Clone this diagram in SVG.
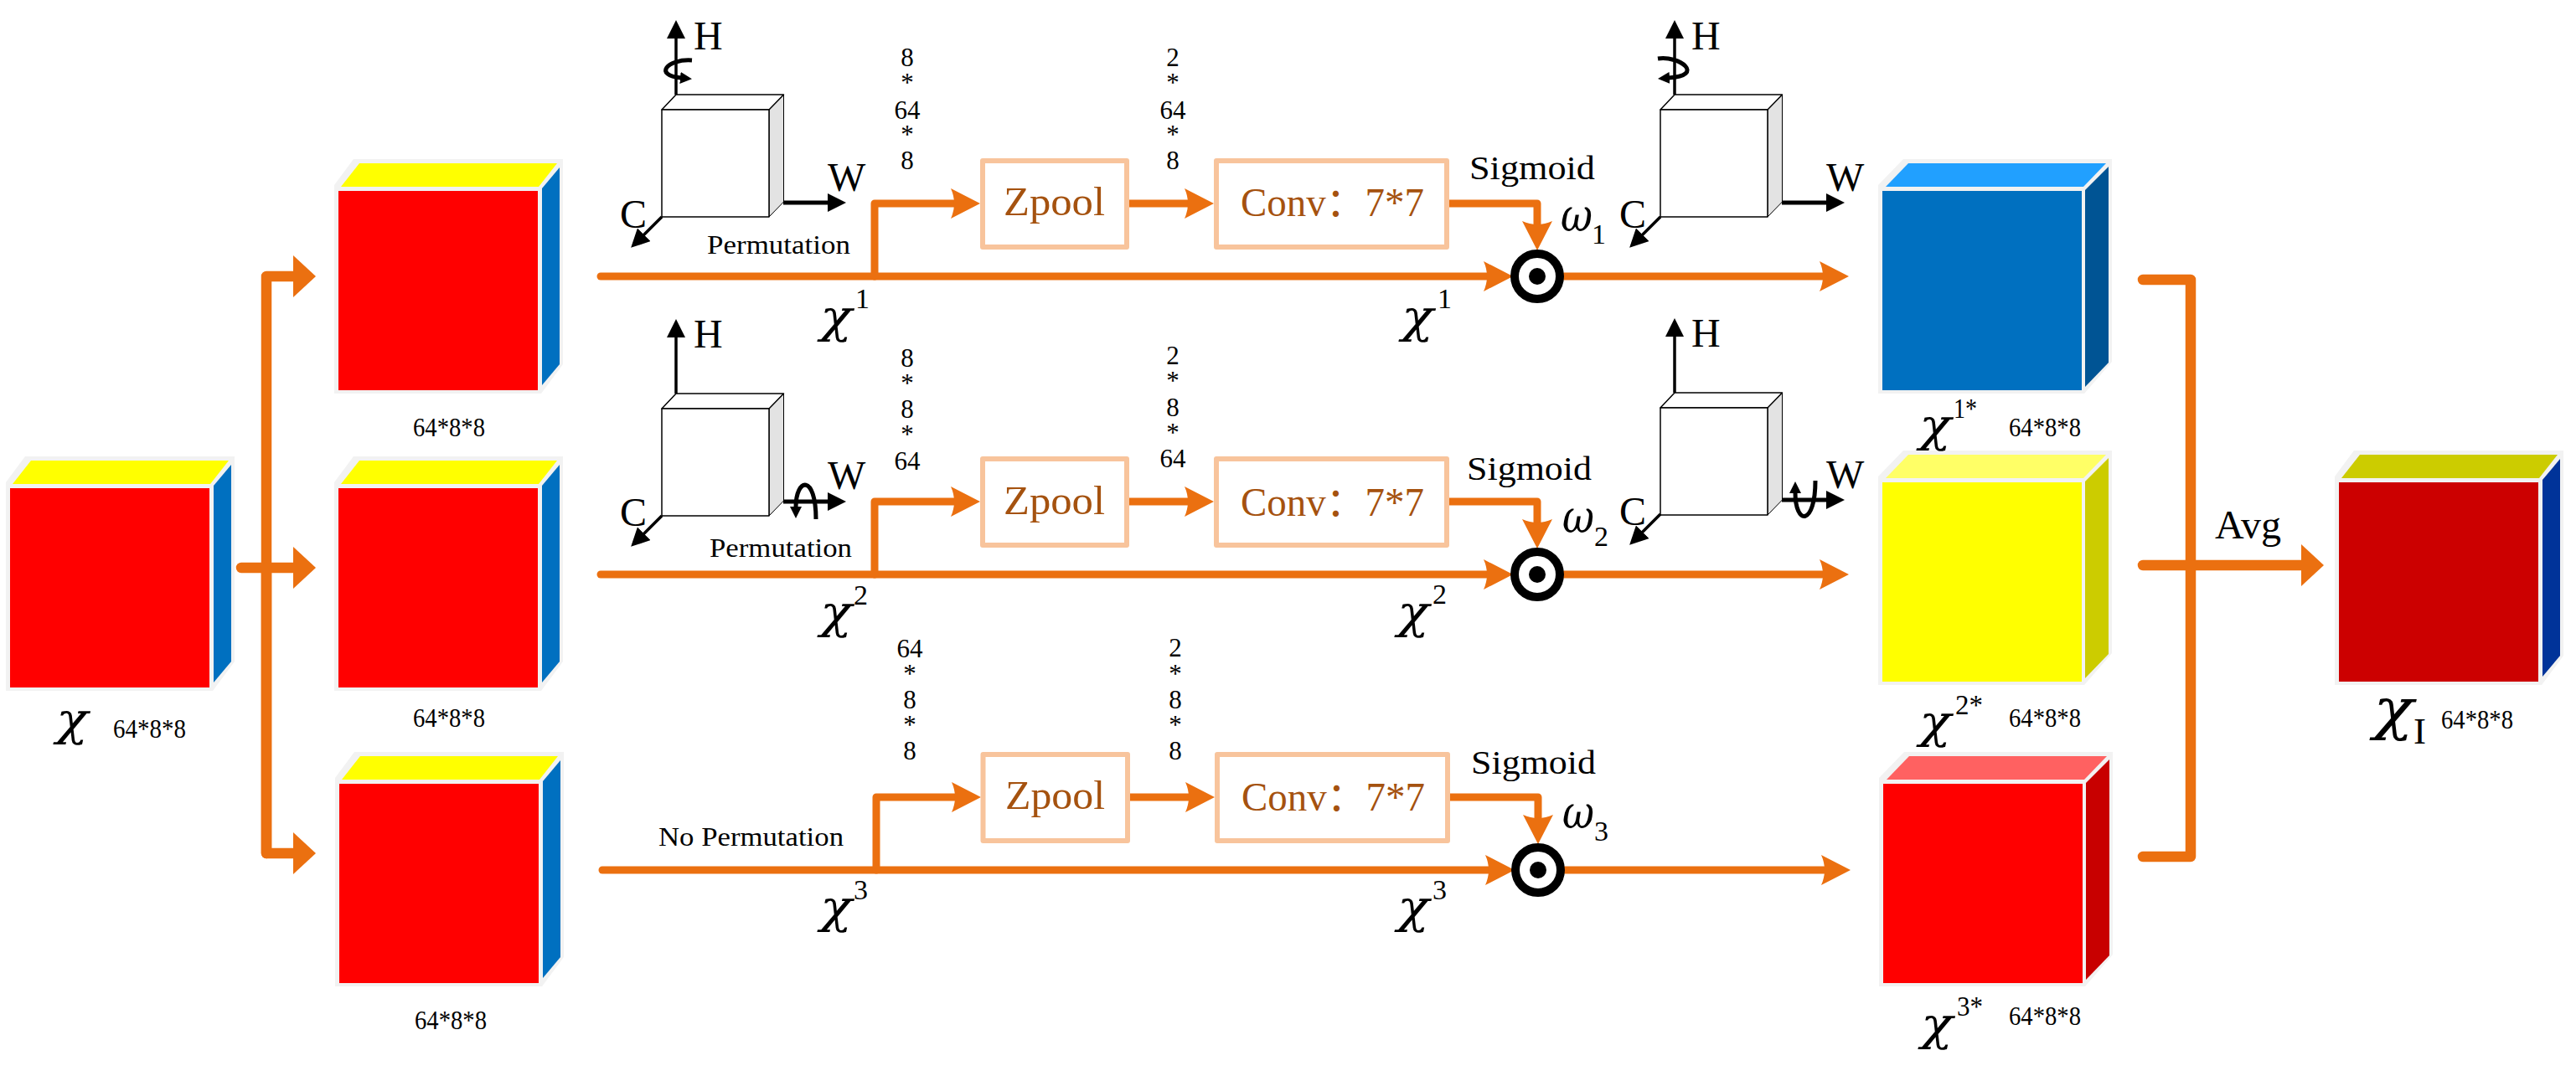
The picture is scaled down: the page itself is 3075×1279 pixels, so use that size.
<svg xmlns="http://www.w3.org/2000/svg" xmlns:xlink="http://www.w3.org/1999/xlink" width="3075" height="1279" viewBox="0 0 3075 1279">
<style>
text{font-family:"Liberation Serif","Noto Sans CJK SC",serif;fill:#000}
.dim{font-size:31px}
.ax{font-size:48px}
.chi{font-family:"DejaVu Serif",serif;font-size:55px;font-style:italic}
.sup{font-size:34px}
.perm{font-size:31px}
.sig{font-size:40px}
.blk{font-size:48px;fill:#A5520F}
.o{fill:none;stroke:#EB7010;stroke-width:9;stroke-linejoin:round;stroke-linecap:round}
.t{stroke-width:12.5}
.box{fill:#fff;stroke:#F8C49C;stroke-width:6;stroke-linejoin:round}
.edge{fill:#fff;stroke:#000;stroke-width:1.5;stroke-linejoin:round}
.shade{fill:#E3E3E3;stroke:#000;stroke-width:1}
.k{fill:none;stroke:#000;stroke-width:3.5}
.kw{stroke-width:5}
.rot{fill:none;stroke:#000;stroke-width:5}
.gr{fill:#F2F2F2}
.r{fill:#FF0000}.y{fill:#FFFF00}.b{fill:#0070C0}.lb{fill:#21A0FF}.db{fill:#005494}.ly{fill:#FFFF66}.dy{fill:#CCCC00}.lr{fill:#FF6161}.dr{fill:#C80000}.cr{fill:#CC0000}.nb{fill:#003399}
</style>
<defs>
<marker id="st" markerUnits="userSpaceOnUse" markerWidth="36" markerHeight="36" viewBox="0 0 36 36" refX="5" refY="18" orient="auto"><path d="M0,0L35,18L0,36Q8,18 0,0Z" fill="#EB7010"/></marker>
<marker id="tr" markerUnits="userSpaceOnUse" markerWidth="27" markerHeight="50" viewBox="0 0 27 50" refX="1" refY="25" orient="auto"><path d="M0,0L27,25L0,50Z" fill="#EB7010"/></marker>
<marker id="kh" markerUnits="userSpaceOnUse" markerWidth="22" markerHeight="22" viewBox="0 0 22 22" refX="1" refY="11" orient="auto"><path d="M0,0L22,11L0,22Z" fill="#000"/></marker>
<marker id="ks" markerUnits="userSpaceOnUse" markerWidth="14" markerHeight="14" viewBox="0 0 14 14" refX="1" refY="7" orient="auto"><path d="M0,0L14,7L0,14Z" fill="#000"/></marker>
<polygon id="lo" points="-5,242 -5,-7 18,-38 268,-38 268,207 242,242"/>
<polygon id="lt" points="3,-5 25,-33 261,-33 239,-5"/>
<polygon id="ls" points="243,-3 264,-28 264,207 243,232"/>
<polygon id="ro" points="-5,242 -5,-7 25,-38 274,-38 274,204 241,242"/>
<polygon id="rt" points="4,-5 31,-33 267,-33 240,-5"/>
<polygon id="rs" points="242,-1 270,-29 270,205 242,234"/>
<rect id="f" width="238" height="238"/>
<g id="frame">
<polygon class="shade" points="128,18 145.500,0 145.500,128 128,146"/>
<polygon class="edge" points="0,18 17,0 145.500,0 128,18"/>
<rect class="edge" x="0" y="18" width="128" height="128"/>
</g>
</defs>

<g id="connectors">
<path class="o t" d="M318,1019V330H351" marker-end="url(#tr)"/>
<path class="o t" d="M288,678H351" marker-end="url(#tr)"/>
<path class="o t" d="M318,678V1019H351" marker-end="url(#tr)"/>
<path class="o" d="M717,330H1776" marker-end="url(#st)"/>
<path class="o" d="M1044,330V243H1140" marker-end="url(#st)"/>
<path class="o" d="M1348,243H1419" marker-end="url(#st)"/>
<path class="o" d="M1730,243H1835V269" marker-end="url(#st)"/>
<path class="o" d="M1867,330H2177" marker-end="url(#st)"/>
<path class="o" d="M717,686H1776" marker-end="url(#st)"/>
<path class="o" d="M1044,686V599H1140" marker-end="url(#st)"/>
<path class="o" d="M1348,599H1419" marker-end="url(#st)"/>
<path class="o" d="M1730,599H1835V625" marker-end="url(#st)"/>
<path class="o" d="M1867,686H2177" marker-end="url(#st)"/>
<path class="o" d="M719,1039H1778" marker-end="url(#st)"/>
<path class="o" d="M1046,1039V952H1141" marker-end="url(#st)"/>
<path class="o" d="M1349,952H1420" marker-end="url(#st)"/>
<path class="o" d="M1731,952H1836V978" marker-end="url(#st)"/>
<path class="o" d="M1868,1039H2179" marker-end="url(#st)"/>
<path class="o t" d="M2558,334H2615V1023H2558"/>
<path class="o t" d="M2558,675H2748" marker-end="url(#tr)"/>
</g>

<g id="cube-input">
<g transform="translate(12,583)"><use href="#lo" class="gr"/><use href="#lt" class="y"/><use href="#ls" class="b"/><use href="#f" class="r"/></g>
<text class="chi" x="67" y="878" textLength="38" lengthAdjust="spacingAndGlyphs">χ</text>
<text class="dim" x="135" y="881" textLength="87" lengthAdjust="spacingAndGlyphs">64*8*8</text>
</g>
<g id="cube-a1">
<g transform="translate(404,228)"><use href="#lo" class="gr"/><use href="#lt" class="y"/><use href="#ls" class="b"/><use href="#f" class="r"/></g>
<text class="dim" x="493" y="521" textLength="86" lengthAdjust="spacingAndGlyphs">64*8*8</text>
</g>
<g id="cube-a2">
<g transform="translate(404,583)"><use href="#lo" class="gr"/><use href="#lt" class="y"/><use href="#ls" class="b"/><use href="#f" class="r"/></g>
<text class="dim" x="493" y="868" textLength="86" lengthAdjust="spacingAndGlyphs">64*8*8</text>
</g>
<g id="cube-a3">
<g transform="translate(405,936)"><use href="#lo" class="gr"/><use href="#lt" class="y"/><use href="#ls" class="b"/><use href="#f" class="r"/></g>
<text class="dim" x="495" y="1229" textLength="86" lengthAdjust="spacingAndGlyphs">64*8*8</text>
</g>

<g id="axes-1">
<use href="#frame" x="790" y="113"/>
<path class="k" d="M807,113V45" marker-end="url(#kh)"/>
<path class="k kw" d="M935,242H989" marker-end="url(#kh)"/>
<path class="k" d="M790,259L768,281" marker-end="url(#kh)"/>
<path class="rot" d="M826,72C796,70 780,90 813,93" marker-end="url(#ks)"/>
<text class="ax" x="828" y="59">H</text><text class="ax" x="988" y="228">W</text><text class="ax" x="740" y="272">C</text>
<text class="perm" x="844" y="303" textLength="171" lengthAdjust="spacingAndGlyphs">Permutation</text>
</g>
<g id="axes-2">
<use href="#frame" x="790" y="470"/>
<path class="k" d="M807,470V402" marker-end="url(#kh)"/>
<path class="k kw" d="M935,599H989" marker-end="url(#kh)"/>
<path class="k" d="M790,616L768,638" marker-end="url(#kh)"/>
<path class="rot" d="M974,620C974,566 950,570 950,606" marker-end="url(#ks)"/>
<text class="ax" x="828" y="415">H</text><text class="ax" x="988" y="584">W</text><text class="ax" x="740" y="628">C</text>
<text class="perm" x="847" y="665" textLength="170" lengthAdjust="spacingAndGlyphs">Permutation</text>
</g>
<g id="axes-3">
<text class="perm" x="786" y="1010" textLength="221" lengthAdjust="spacingAndGlyphs">No Permutation</text>
</g>
<g id="axes-4">
<use href="#frame" x="1982" y="113"/>
<path class="k" d="M1999,113V45" marker-end="url(#kh)"/>
<path class="k kw" d="M2127,242H2181" marker-end="url(#kh)"/>
<path class="k" d="M1982,259L1960,281" marker-end="url(#kh)"/>
<path class="rot" d="M1979,70C2005,66 2036,90 1992,93" marker-end="url(#ks)"/>
<text class="ax" x="2019" y="59">H</text><text class="ax" x="2180" y="228">W</text><text class="ax" x="1933" y="272">C</text>
</g>
<g id="axes-5">
<use href="#frame" x="1982" y="469"/>
<path class="k" d="M1999,469V401" marker-end="url(#kh)"/>
<path class="k kw" d="M2127,597H2181" marker-end="url(#kh)"/>
<path class="k" d="M1982,614L1960,636" marker-end="url(#kh)"/>
<path class="rot" d="M2167,574C2167,628 2143,628 2143,588" marker-end="url(#ks)"/>
<text class="ax" x="2019" y="414">H</text><text class="ax" x="2180" y="583">W</text><text class="ax" x="1933" y="627">C</text>
</g>

<g id="row-1">
<rect class="box" x="1173" y="192" width="172" height="103"/><text class="blk" x="1198" y="257" textLength="121" lengthAdjust="spacingAndGlyphs">Zpool</text>
<rect class="box" x="1452" y="192" width="275" height="103"/><text class="blk" x="1481" y="258" textLength="219" lengthAdjust="spacingAndGlyphs">Conv：7*7</text>
<text class="dim" text-anchor="middle"><tspan x="1083" y="79">8</tspan><tspan x="1083" y="109">*</tspan><tspan x="1083" y="142">64</tspan><tspan x="1083" y="171">*</tspan><tspan x="1083" y="202">8</tspan></text>
<text class="dim" text-anchor="middle"><tspan x="1400" y="79">2</tspan><tspan x="1400" y="109">*</tspan><tspan x="1400" y="142">64</tspan><tspan x="1400" y="171">*</tspan><tspan x="1400" y="202">8</tspan></text>
<text class="sig" x="1754" y="214" textLength="150" lengthAdjust="spacingAndGlyphs">Sigmoid</text>
<text class="chi" x="1863" y="276" textLength="38" lengthAdjust="spacingAndGlyphs">ω</text><text class="sup" x="1900" y="291">1</text>
<text class="chi" x="979" y="397" textLength="38" lengthAdjust="spacingAndGlyphs">χ</text><text class="sup" x="1021" y="368">1</text>
<text class="chi" x="1673" y="397" textLength="38" lengthAdjust="spacingAndGlyphs">χ</text><text class="sup" x="1716" y="368">1</text>
</g>
<g id="row-2">
<rect class="box" x="1173" y="548" width="172" height="103"/><text class="blk" x="1198" y="614" textLength="121" lengthAdjust="spacingAndGlyphs">Zpool</text>
<rect class="box" x="1452" y="548" width="275" height="103"/><text class="blk" x="1481" y="616" textLength="219" lengthAdjust="spacingAndGlyphs">Conv：7*7</text>
<text class="dim" text-anchor="middle"><tspan x="1083" y="438">8</tspan><tspan x="1083" y="468">*</tspan><tspan x="1083" y="499">8</tspan><tspan x="1083" y="529">*</tspan><tspan x="1083" y="561">64</tspan></text>
<text class="dim" text-anchor="middle"><tspan x="1400" y="435">2</tspan><tspan x="1400" y="465">*</tspan><tspan x="1400" y="497">8</tspan><tspan x="1400" y="527">*</tspan><tspan x="1400" y="558">64</tspan></text>
<text class="sig" x="1751" y="573" textLength="149" lengthAdjust="spacingAndGlyphs">Sigmoid</text>
<text class="chi" x="1865" y="636" textLength="38" lengthAdjust="spacingAndGlyphs">ω</text><text class="sup" x="1903" y="652">2</text>
<text class="chi" x="979" y="750" textLength="38" lengthAdjust="spacingAndGlyphs">χ</text><text class="sup" x="1019" y="722">2</text>
<text class="chi" x="1668" y="750" textLength="38" lengthAdjust="spacingAndGlyphs">χ</text><text class="sup" x="1710" y="721">2</text>
</g>
<g id="row-3">
<rect class="box" x="1173.500" y="901" width="172.500" height="103"/><text class="blk" x="1200" y="966" textLength="119" lengthAdjust="spacingAndGlyphs">Zpool</text>
<rect class="box" x="1453" y="901" width="275" height="103"/><text class="blk" x="1482" y="968" textLength="219" lengthAdjust="spacingAndGlyphs">Conv：7*7</text>
<text class="dim" text-anchor="middle"><tspan x="1086" y="785">64</tspan><tspan x="1086" y="815">*</tspan><tspan x="1086" y="846">8</tspan><tspan x="1086" y="876">*</tspan><tspan x="1086" y="907">8</tspan></text>
<text class="dim" text-anchor="middle"><tspan x="1403" y="784">2</tspan><tspan x="1403" y="815">*</tspan><tspan x="1403" y="846">8</tspan><tspan x="1403" y="876">*</tspan><tspan x="1403" y="907">8</tspan></text>
<text class="sig" x="1756" y="924" textLength="149" lengthAdjust="spacingAndGlyphs">Sigmoid</text>
<text class="chi" x="1865" y="989" textLength="38" lengthAdjust="spacingAndGlyphs">ω</text><text class="sup" x="1903" y="1004">3</text>
<text class="chi" x="979" y="1102" textLength="38" lengthAdjust="spacingAndGlyphs">χ</text><text class="sup" x="1019" y="1074">3</text>
<text class="chi" x="1668" y="1102" textLength="38" lengthAdjust="spacingAndGlyphs">χ</text><text class="sup" x="1710" y="1074">3</text>
</g>

<g id="mul-1"><circle cx="1835" cy="330" r="27" fill="#fff" stroke="#000" stroke-width="10"/><circle cx="1835" cy="330" r="10" fill="#000"/></g>
<g id="mul-2"><circle cx="1835" cy="686" r="27" fill="#fff" stroke="#000" stroke-width="10"/><circle cx="1835" cy="686" r="10" fill="#000"/></g>
<g id="mul-3"><circle cx="1836" cy="1039" r="27" fill="#fff" stroke="#000" stroke-width="10"/><circle cx="1836" cy="1039" r="10" fill="#000"/></g>

<g id="cube-b1">
<g transform="translate(2247,228)"><use href="#ro" class="gr"/><use href="#rt" class="lb"/><use href="#rs" class="db"/><use href="#f" class="b"/></g>
<text class="dim" x="2398" y="521" textLength="86" lengthAdjust="spacingAndGlyphs">64*8*8</text>
</g>
<g id="cube-b2">
<g transform="translate(2247,576)"><use href="#ro" class="gr"/><use href="#rt" class="ly"/><use href="#rs" class="dy"/><use href="#f" class="y"/></g>
<text class="dim" x="2398" y="868" textLength="86" lengthAdjust="spacingAndGlyphs">64*8*8</text>
</g>
<g id="cube-b3">
<g transform="translate(2248,936)"><use href="#ro" class="gr"/><use href="#rt" class="lr"/><use href="#rs" class="dr"/><use href="#f" class="r"/></g>
<text class="dim" x="2398" y="1224" textLength="86" lengthAdjust="spacingAndGlyphs">64*8*8</text>
</g>
<g id="labels-star">
<text class="chi" x="2291" y="527" textLength="38" lengthAdjust="spacingAndGlyphs">χ</text><text class="sup" x="2332" y="499" textLength="28" lengthAdjust="spacingAndGlyphs">1*</text>
<text class="chi" x="2291" y="881" textLength="38" lengthAdjust="spacingAndGlyphs">χ</text><text class="sup" x="2334" y="853" textLength="33" lengthAdjust="spacingAndGlyphs">2*</text>
<text class="chi" x="2293" y="1242" textLength="38" lengthAdjust="spacingAndGlyphs">χ</text><text class="sup" x="2336" y="1213" textLength="31" lengthAdjust="spacingAndGlyphs">3*</text>
</g>
<g id="cube-out">
<g transform="translate(2792,576)"><use href="#lo" class="gr"/><use href="#lt" class="dy"/><use href="#ls" class="nb"/><use href="#f" class="cr"/></g>
<text class="chi" style="font-size:68px" x="2833" y="870" textLength="48" lengthAdjust="spacingAndGlyphs">χ</text><text style="font-size:45px" x="2881" y="888">I</text>
<text class="dim" x="2914" y="870" textLength="86" lengthAdjust="spacingAndGlyphs">64*8*8</text>
<text class="ax" x="2644" y="643">Avg</text>
</g>
</svg>
